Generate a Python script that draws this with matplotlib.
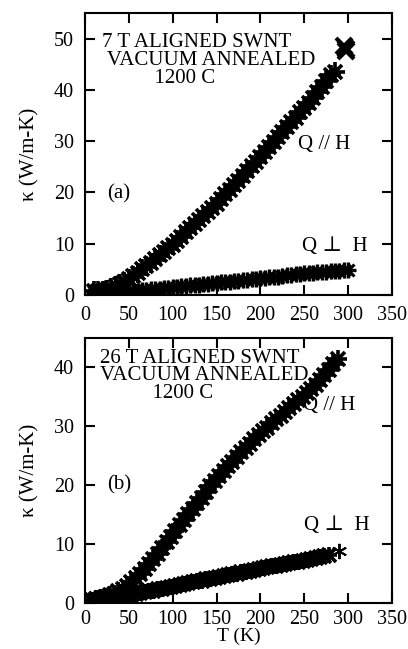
import numpy as np
import matplotlib
matplotlib.use('Agg')
import matplotlib.pyplot as plt

plt.rcParams['font.family'] = ['Liberation Serif', 'DejaVu Serif']

# ---- panel (a): 7 T aligned SWNT ----
t_a_par = [10, 15, 20, 25, 30, 35, 40, 45, 50, 55, 60, 65, 70, 75, 80, 85, 90, 95,
           100, 105, 110, 115, 120, 125, 130, 135, 140, 145, 150, 155, 160, 165,
           170, 175, 180, 185, 190, 195, 200, 205, 210, 215, 220, 225, 230, 235,
           240, 245, 250, 255, 260, 265, 270, 275, 280, 285]
k_a_par = [0.8, 0.7, 0.8, 1.0, 1.3, 1.7, 2.1, 2.6, 3.1, 3.7, 4.3, 5.0, 5.6, 6.3,
           7.0, 7.7, 8.4, 9.1, 9.8, 10.6, 11.4, 12.2, 13.0, 13.8, 14.6, 15.4,
           16.2, 17.0, 17.8, 18.7, 19.6, 20.5, 21.4, 22.3, 23.2, 24.1, 25.1,
           26.0, 27.0, 27.9, 28.9, 29.9, 30.8, 31.8, 32.7, 33.7, 34.6, 35.6,
           36.5, 37.5, 38.5, 39.5, 40.6, 41.8, 43.0, 43.5]
t_a_end = [295, 297, 298]
k_a_end = [48.6, 48.0, 47.5]

t_a_perp = [10, 15, 20, 25, 30, 35, 40, 45, 50, 55, 60, 65, 70, 75, 80, 85, 90, 95,
            100, 105, 110, 115, 120, 125, 130, 135, 140, 145, 150, 155, 160, 165,
            170, 175, 180, 185, 190, 195, 200, 205, 210, 215, 220, 225, 230, 235,
            240, 245, 250, 255, 260, 265, 270, 275, 280, 285, 290, 295, 300]
k_a_perp = [0.6, 0.5, 0.5, 0.5, 0.5, 0.5, 0.6, 0.6, 0.7, 0.8, 0.8, 0.9, 1.0, 1.1,
            1.2, 1.2, 1.3, 1.4, 1.5, 1.6, 1.7, 1.8, 1.9, 2.0, 2.0, 2.1, 2.2, 2.3,
            2.4, 2.5, 2.6, 2.6, 2.7, 2.8, 2.9, 3.0, 3.1, 3.2, 3.3, 3.4, 3.5, 3.5,
            3.6, 3.7, 3.8, 3.9, 4.0, 4.1, 4.2, 4.2, 4.3, 4.4, 4.5, 4.5, 4.6, 4.7,
            4.7, 4.8, 4.8]

# ---- panel (b): 26 T aligned SWNT ----
t_b_par = [8, 13, 18, 23, 28, 33, 38, 43, 48, 53, 58, 63, 68, 73, 78, 83, 88, 93,
           98, 103, 108, 113, 118, 123, 128, 133, 138, 143, 148, 153, 158, 163,
           168, 173, 178, 183, 188, 193, 198, 203, 208, 213, 218, 223, 228, 233,
           238, 243, 248, 253, 258, 263, 268, 273, 278, 283, 288]
k_b_par = [0.4, 0.6, 0.8, 1.0, 1.3, 1.6, 2.0, 2.4, 2.9, 3.5, 4.2, 5.0, 5.8, 6.6,
           7.5, 8.4, 9.3, 10.3, 11.2, 12.2, 13.2, 14.1, 15.1, 16.0, 17.0, 17.9,
           18.8, 19.8, 20.7, 21.5, 22.4, 23.2, 24.0, 24.8, 25.6, 26.3, 27.0,
           27.8, 28.5, 29.2, 29.8, 30.5, 31.2, 31.8, 32.5, 33.1, 33.8, 34.4,
           35.0, 35.7, 36.4, 37.1, 37.9, 38.7, 39.6, 40.5, 41.4]

t_b_perp = [8, 13, 18, 23, 28, 33, 38, 43, 48, 53, 58, 63, 68, 73, 78, 83, 88, 93,
            98, 103, 108, 113, 118, 123, 128, 133, 138, 143, 148, 153, 158, 163,
            168, 173, 178, 183, 188, 193, 198, 203, 208, 213, 218, 223, 228, 233,
            238, 243, 248, 253, 258, 263, 268, 273, 278]
k_b_perp = [0.5, 0.6, 0.7, 0.8, 0.9, 1.0, 1.1, 1.2, 1.3, 1.4, 1.6, 1.7, 1.9, 2.0,
            2.1, 2.3, 2.4, 2.6, 2.7, 2.9, 3.0, 3.2, 3.4, 3.5, 3.7, 3.8, 4.0, 4.1,
            4.3, 4.4, 4.6, 4.7, 4.9, 5.0, 5.2, 5.3, 5.5, 5.6, 5.8, 5.9, 6.1, 6.2,
            6.3, 6.5, 6.6, 6.8, 6.9, 7.0, 7.2, 7.3, 7.5, 7.6, 7.8, 7.9, 8.1]
t_b_star = [290]
k_b_star = [8.8]

title_a = '7 T ALIGNED SWNT\n VACUUM ANNEALED\n' + ' ' * 10 + '1200 C'
title_b = '26 T ALIGNED SWNT\nVACUUM ANNEALED\n' + ' ' * 10 + '1200 C'

fig = plt.figure(figsize=(4.08, 6.49), dpi=100)
ax1 = fig.add_axes([0.2083, 0.5455, 0.7525, 0.4345])
ax2 = fig.add_axes([0.2083, 0.0709, 0.7525, 0.4083])

fs_tick = 14.5
fs_txt = 15
fs_lab = 15

# panel (a) - scattered '+' style marks
ax1.plot(t_a_par, k_a_par, ls='none', marker='+', ms=14, mew=2.6, color='k')
ax1.plot(t_a_par, k_a_par, ls='none', marker='x', ms=10, mew=2.6, color='k')
ax1.plot(t_a_end, k_a_end, ls='none', marker='x', ms=11, mew=3, color='k')
ax1.plot(t_a_perp, k_a_perp, ls='none', marker='+', ms=12, mew=2.4, color='k')
ax1.plot(t_a_perp, k_a_perp, ls='none', marker='x', ms=8, mew=2.2, color='k')
ax1.set_xlim(0, 350)
ax1.set_ylim(0, 55)
ax1.set_yticks([0, 10, 20, 30, 40, 50])
ax1.text(19, 45.7, title_a, fontsize=fs_txt, va='center', linespacing=0.93)
ax1.text(243, 29.3, 'Q // H', fontsize=fs_txt, va='center')
ax1.text(247, 9.4, 'Q \u22a5  H', fontsize=fs_txt, va='center')
ax1.text(25, 19.7, '(a)', fontsize=fs_txt, va='center')
ax1.set_ylabel('\u03ba (W/m-K)', fontsize=fs_lab, labelpad=10)

# panel (b) - dense solid bands
ax2.plot(t_b_par, k_b_par, ls='none', marker='+', ms=13, mew=2.6, color='k')
ax2.plot(t_b_par, k_b_par, ls='none', marker='x', ms=10, mew=2.6, color='k')
ax2.plot(t_b_perp, k_b_perp, ls='none', marker='+', ms=12, mew=2.6, color='k')
ax2.plot(t_b_perp, k_b_perp, ls='none', marker='x', ms=10, mew=2.6, color='k')
ax2.plot(t_b_star, k_b_star, ls='none', marker=(6, 2, 0), ms=11, mew=1.4, color='k')
ax2.set_xlim(0, 350)
ax2.set_ylim(0, 45)
ax2.set_yticks([0, 10, 20, 30, 40])
ax2.text(17, 38.6, title_b, fontsize=fs_txt, va='center', linespacing=0.88)
ax2.text(249, 33.6, 'Q // H', fontsize=fs_txt, va='center')
ax2.text(250, 13.1, 'Q \u22a5  H', fontsize=fs_txt, va='center')
ax2.text(25, 20, '(b)', fontsize=fs_txt, va='center')
ax2.set_ylabel('\u03ba (W/m-K)', fontsize=fs_lab, labelpad=10)
ax2.set_xlabel('T (K)', fontsize=14, labelpad=-1)

for ax in (ax1, ax2):
    ax.set_xticks([0, 50, 100, 150, 200, 250, 300, 350])
    ax.tick_params(direction='in', length=7, width=1.5, top=True, right=True,
                   labelsize=fs_tick, pad=8)
    for sp in ax.spines.values():
        sp.set_linewidth(1.5)
ax2.tick_params(axis='x', pad=5)

fig.savefig('out.png', dpi=100)
